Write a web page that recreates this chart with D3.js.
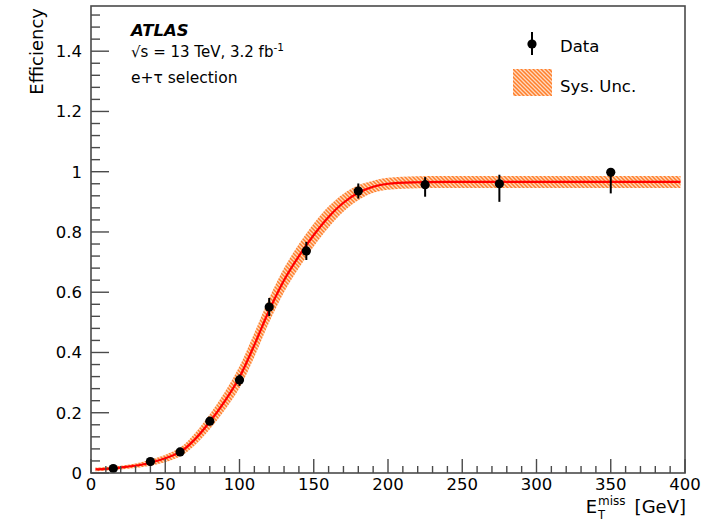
<!DOCTYPE html>
<html><head><meta charset="utf-8">
<script src="https://cdn.jsdelivr.net/npm/d3@7"></script>
<style>body{margin:0;background:#fff}svg{display:block}text{font-family:"DejaVu Sans",sans-serif;fill:#000}</style>
</head><body>
<svg id="c" width="720" height="523"></svg>
<script>
// ---- data ----
const dataX   = [15, 40, 60, 80, 100, 120, 145, 180, 225, 275, 350];
const dataY   = [0.015, 0.038, 0.07, 0.172, 0.309, 0.551, 0.737, 0.936, 0.957, 0.96, 0.998];
const errUp   = [0.004, 0.006, 0.008, 0.012, 0.018, 0.03, 0.03, 0.025, 0.025, 0.03, 0.01];
const errDown = [0.004, 0.006, 0.008, 0.012, 0.02, 0.03, 0.03, 0.025, 0.04, 0.06, 0.07];
const fitX    = [3, 20, 40, 60, 70, 80, 90, 100, 110, 120, 130, 140, 150, 160, 170, 180, 190, 200, 220, 250, 300, 397];
const fitY    = [0.012, 0.018, 0.034, 0.07, 0.112, 0.17, 0.238, 0.318, 0.425, 0.54, 0.64, 0.72, 0.79, 0.85, 0.897, 0.93, 0.95, 0.96, 0.965, 0.966, 0.966, 0.966];
const sysUnc  = [0.006, 0.006, 0.01, 0.015, 0.02, 0.025, 0.03, 0.036, 0.04, 0.04, 0.04, 0.04, 0.038, 0.035, 0.03, 0.025, 0.02, 0.02, 0.02, 0.02, 0.02, 0.02];
const xTickLabels = [0, 50, 100, 150, 200, 250, 300, 350, 400];
const yTickLabels = [0, 0.2, 0.4, 0.6, 0.8, 1, 1.2, 1.4];

const L = 91, R = 685, T = 6, B = 473;
const svg = d3.select("#c");
const x = d3.scaleLinear().domain([0, 400]).range([L, R]);
const y = d3.scaleLinear().domain([0, 1.55]).range([B, T]);

// hatch pattern
const defs = svg.append("defs");
const pat = defs.append("pattern").attr("id", "hatch").attr("patternUnits", "userSpaceOnUse")
  .attr("width", 4).attr("height", 4);
pat.append("rect").attr("width", 4).attr("height", 4).attr("fill", "#ffd9bf");
pat.append("path").attr("d", "M-1,-1 L5,5 M-1,3 L1,5 M3,-1 L5,1")
  .attr("stroke", "#ff7f2a").attr("stroke-width", 1.5);

const fit = fitX.map((v, i) => ({x: v, y: fitY[i], u: sysUnc[i]}));
const crv = d3.curveCatmullRom.alpha(0.5);

// band
svg.append("path").datum(fit)
  .attr("d", d3.area().x(d => x(d.x)).y0(d => y(d.y - d.u)).y1(d => y(d.y + d.u)).curve(crv))
  .attr("fill", "url(#hatch)");
// fit line
svg.append("path").datum(fit)
  .attr("d", d3.line().x(d => x(d.x)).y(d => y(d.y)).curve(crv))
  .attr("fill", "none").attr("stroke", "#ff0000").attr("stroke-width", 2.2);

// data
const pts = dataX.map((v, i) => ({x: v, y: dataY[i], up: errUp[i], dn: errDown[i]}));
svg.append("g").selectAll("line").data(pts).join("line")
  .attr("x1", d => x(d.x)).attr("x2", d => x(d.x))
  .attr("y1", d => y(d.y + d.up)).attr("y2", d => y(d.y - d.dn))
  .attr("stroke", "#000").attr("stroke-width", 2);
svg.append("g").selectAll("circle").data(pts).join("circle")
  .attr("cx", d => x(d.x)).attr("cy", d => y(d.y)).attr("r", 4.6).attr("fill", "#000");

// frame
const fc = "#4a4a4a";
svg.append("rect").attr("x", L).attr("y", T).attr("width", R - L).attr("height", B - T)
  .attr("fill", "none").attr("stroke", fc).attr("stroke-width", 1.6);

// x ticks
const xt = svg.append("g");
xt.selectAll("line").data(d3.range(0, 401, 10)).join("line")
  .attr("x1", d => x(d)).attr("x2", d => x(d)).attr("y1", B)
  .attr("y2", d => B - (d % 50 === 0 ? 14 : 7)).attr("stroke", fc).attr("stroke-width", 1.4);
xt.selectAll("text").data(xTickLabels).join("text")
  .attr("x", d => x(d)).attr("y", 490).attr("text-anchor", "middle")
  .attr("font-size", "16.5px").text(d => d);

// y ticks
const yt = svg.append("g");
yt.selectAll("line").data(d3.range(0, 39).map(i => i * 0.04)).join("line")
  .attr("x1", L).attr("x2", d => L + (Math.abs(d / 0.2 - Math.round(d / 0.2)) < 1e-6 ? 18 : 9))
  .attr("y1", d => y(d)).attr("y2", d => y(d)).attr("stroke", fc).attr("stroke-width", 1.4);
yt.selectAll("text").data(yTickLabels).join("text")
  .attr("x", 82).attr("y", d => y(d) + 6).attr("text-anchor", "end")
  .attr("font-size", "16.5px").text(d => d);

// axis titles
svg.append("text").attr("transform", "translate(43,8) rotate(-90)")
  .attr("text-anchor", "end").attr("font-size", "18px").text("Efficiency");

const gev = svg.append("text").attr("x", 686).attr("y", 513).attr("text-anchor", "end")
  .attr("font-size", "18px").text("[GeV]");
const gw = gev.node().getComputedTextLength();
const missX = 686 - gw - 9;
const miss = svg.append("text").attr("x", missX).attr("y", 505).attr("text-anchor", "end")
  .attr("font-size", "12px").text("miss");
const mw = miss.node().getComputedTextLength();
svg.append("text").attr("x", missX - mw).attr("y", 519).attr("font-size", "11.5px").text("T");
svg.append("text").attr("x", missX - mw - 1).attr("y", 513).attr("text-anchor", "end")
  .attr("font-size", "18px").text("E");

// labels
svg.append("text").attr("x", 131).attr("y", 36).attr("font-size", "16.5px")
  .attr("font-weight", "bold").attr("font-style", "italic").text("ATLAS");
const t2 = svg.append("text").attr("x", 131).attr("y", 57).attr("font-size", "15px");
t2.append("tspan").text("√s = 13 TeV, 3.2 fb");
t2.append("tspan").attr("dy", -6).attr("font-size", "10.5px").text("-1");
svg.append("text").attr("x", 131).attr("y", 83).attr("font-size", "15.5px").text("e+τ selection");

// legend
svg.append("line").attr("x1", 532).attr("x2", 532).attr("y1", 32).attr("y2", 55)
  .attr("stroke", "#000").attr("stroke-width", 2);
svg.append("circle").attr("cx", 532).attr("cy", 44).attr("r", 4.6).attr("fill", "#000");
svg.append("text").attr("x", 560).attr("y", 52).attr("font-size", "16.5px").text("Data");
svg.append("rect").attr("x", 513).attr("y", 69).attr("width", 39).attr("height", 27).attr("fill", "url(#hatch)");
svg.append("text").attr("x", 560).attr("y", 92).attr("font-size", "16.5px").text("Sys. Unc.");
</script>
</body></html>
